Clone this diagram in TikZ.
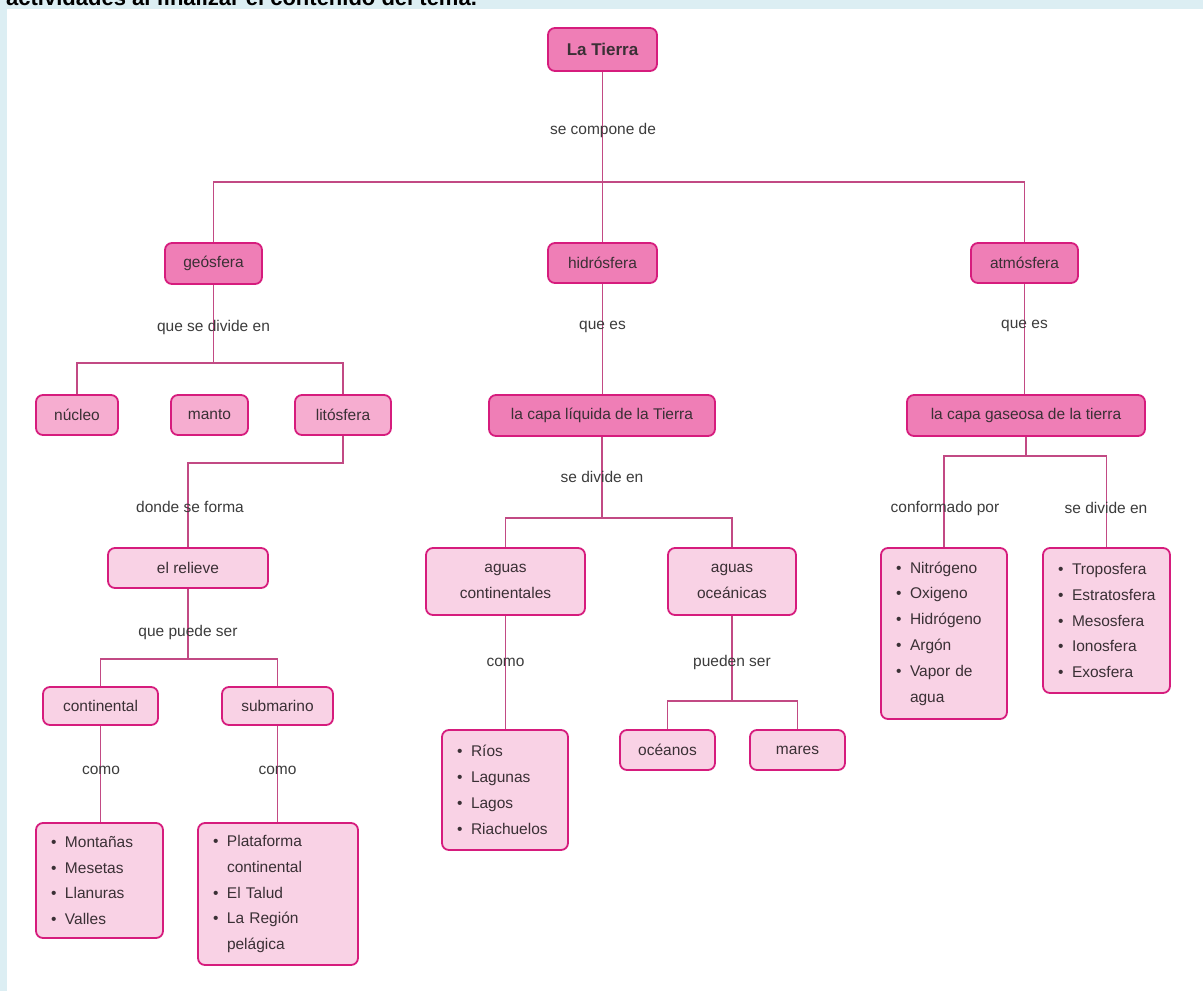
\documentclass[tikz,border=0pt]{standalone}
\usepackage{fontspec}
\setmainfont{Liberation Sans}
\definecolor{bluebg}{HTML}{DCEEF3}
\definecolor{pinkA}{HTML}{EF7EB6}
\definecolor{pinkB}{HTML}{F6ADD0}
\definecolor{pinkC}{HTML}{F9D2E5}
\definecolor{edgeA}{HTML}{D61C7D}
\definecolor{linec}{HTML}{C24A84}
\definecolor{txt}{HTML}{3A3035}
\definecolor{lbltxt}{HTML}{3C3C3C}
\pgfdeclarelayer{bg}
\pgfdeclarelayer{edges}
\pgfsetlayers{bg,edges,main}
\newcommand{\bl}{\makebox[14pt][l]{\textbullet}}
\begin{document}
\begin{tikzpicture}[x=1pt,y=-1pt,
  basebox/.style={draw=edgeA, line width=1.8pt, rounded corners=7pt, inner sep=0pt,
    text=txt, font=\fontsize{15.5}{26}\selectfont, align=center},
  boxA/.style={basebox, fill=pinkA},
  boxB/.style={basebox, fill=pinkB},
  boxC/.style={basebox, fill=pinkC},
  lst/.style={basebox, fill=pinkC, align=left, inner xsep=15pt, inner ysep=0pt,
    font=\fontsize{15.5}{25.8}\selectfont},
  lbl/.style={text=lbltxt, font=\fontsize{15.5}{19}\selectfont, inner sep=1pt},
  conn/.style={draw=linec, line width=1.2pt},
  hdr/.style={anchor=base west, inner sep=0pt, text=black, font=\fontsize{22}{26}\selectfont\bfseries}
]
\useasboundingbox (0,0) rectangle (1203,991);
\clip (0,0) rectangle (1203,991);
\begin{pgfonlayer}{bg}
  \fill[white] (0,0) rectangle (1203,991);
  \fill[bluebg] (0,0) rectangle (1203,9);
  \fill[bluebg] (0,0) rectangle (7,991);
\end{pgfonlayer}
\node[hdr] (header) at (6,5) {actividades al finalizar el contenido del tema.};

% level 1
\node[boxA, minimum width=109pt, minimum height=43pt, font=\fontsize{17}{20}\selectfont\bfseries] (tierra) at (602.5,49.5) {La Tierra};
\node[boxA, minimum width=97pt, minimum height=41pt] (geo) at (213.5,263.5) {geósfera};
\node[boxA, minimum width=109pt, minimum height=40pt] (hid) at (602.5,263) {hidrósfera};
\node[boxA, minimum width=107pt, minimum height=40pt] (atm) at (1024.5,263) {atmósfera};
\node[boxA, minimum width=226pt, minimum height=41pt] (cliq) at (602,415.5) {la capa líquida de la Tierra};
\node[boxA, minimum width=238pt, minimum height=41pt] (cgas) at (1026,415.5) {la capa gaseosa de la tierra};

% geosfera branch
\node[boxB, minimum width=82pt, minimum height=40pt] (nuc) at (77,415) {núcleo};
\node[boxB, minimum width=77pt, minimum height=40pt] (man) at (209.5,415) {manto};
\node[boxB, minimum width=96pt, minimum height=40pt] (lit) at (343,415) {litósfera};
\node[boxC, minimum width=160pt, minimum height=40pt] (rel) at (188,568) {el relieve};
\node[boxC, minimum width=115pt, minimum height=38pt] (cont) at (100.5,706) {continental};
\node[boxC, minimum width=111pt, minimum height=38pt] (sub) at (277.5,706) {submarino};
\node[lst, text width=97pt, minimum height=115pt] (list1) at (99.5,880.5)
  {\bl Montañas\\\bl Mesetas\\\bl Llanuras\\\bl Valles};
\node[lst, text width=130pt, minimum height=142pt] (list2) at (278,894)
  {\bl Plataforma\\\hspace*{14pt}continental\\\bl El Talud\\\bl La Región\\\hspace*{14pt}pelágica};

% hidrosfera branch
\node[boxC, minimum width=159pt, minimum height=67pt] (ac) at (505.5,581.5) {aguas\\continentales};
\node[boxC, minimum width=128pt, minimum height=67pt] (ao) at (732,581.5) {aguas\\oceánicas};
\node[lst, text width=96pt, minimum height=120pt] (rios) at (505,790)
  {\bl Ríos\\\bl Lagunas\\\bl Lagos\\\bl Riachuelos};
\node[boxC, minimum width=95pt, minimum height=40pt] (oce) at (667.5,750) {océanos};
\node[boxC, minimum width=95pt, minimum height=40pt] (mar) at (797.5,750) {mares};

% atmosfera branch
\node[lst, text width=96pt, minimum height=171pt] (nit) at (944,633.5)
  {\bl Nitrógeno\\\bl Oxigeno\\\bl Hidrógeno\\\bl Argón\\\bl Vapor de\\\hspace*{14pt}agua};
\node[lst, text width=97pt, minimum height=145pt] (tro) at (1106.5,620.5)
  {\bl Troposfera\\\bl Estratosfera\\\bl Mesosfera\\\bl Ionosfera\\\bl Exosfera};

% labels
\node[lbl] (l1) at (603,130) {se compone de};
\node[lbl] (l2) at (213.5,327) {que se divide en};
\node[lbl] (l3) at (602.5,327) {que es};
\node[lbl] (l4) at (1024.5,326) {que es};
\node[lbl] (l5) at (190,507) {donde se forma};
\node[lbl] (l6) at (602,477) {se divide en};
\node[lbl] (l7) at (945,508) {conformado por};
\node[lbl] (l8) at (1106,508) {se divide en};
\node[lbl] (l9) at (188,632) {que puede ser};
\node[lbl] (l10) at (101,770) {como};
\node[lbl] (l11) at (277.5,770) {como};
\node[lbl] (l12) at (505.5,662) {como};
\node[lbl] (l13) at (732,662) {pueden ser};

% junctions
\coordinate (j1) at (602.5,182);
\coordinate (j2) at (213.5,363);
\coordinate (j3) at (343,463);
\coordinate (j4) at (188,659);
\coordinate (j5) at (602,518);
\coordinate (j6) at (732,701);
\coordinate (j7) at (1026,456);

\begin{pgfonlayer}{edges}
  \draw[conn] (tierra.south) -- (j1);
  \draw[conn] (geo.north) |- (j1) -| (atm.north);
  \draw[conn] (hid.north) -- (j1);
  \draw[conn] (geo.south) -- (j2);
  \draw[conn] (nuc.north) |- (j2) -| (lit.north);
  \draw[conn] (lit.south) -- (j3) -| (rel.north);
  \draw[conn] (rel.south) -- (j4);
  \draw[conn] (cont.north) |- (j4) -| (sub.north);
  \draw[conn] (cont.south) -- (cont.south |- list1.north);
  \draw[conn] (sub.south) -- (sub.south |- list2.north);
  \draw[conn] (hid.south) -- (hid.south |- cliq.north);
  \draw[conn] (cliq.south) -- (j5);
  \draw[conn] (ac.north) |- (j5) -| (ao.north);
  \draw[conn] (ac.south) -- (ac.south |- rios.north);
  \draw[conn] (ao.south) -- (j6);
  \draw[conn] (oce.north) |- (j6) -| (mar.north);
  \draw[conn] (atm.south) -- (atm.south |- cgas.north);
  \draw[conn] (cgas.south) -- (j7);
  \draw[conn] (nit.north) |- (j7) -| (tro.north);
\end{pgfonlayer}
\end{tikzpicture}
\end{document}
